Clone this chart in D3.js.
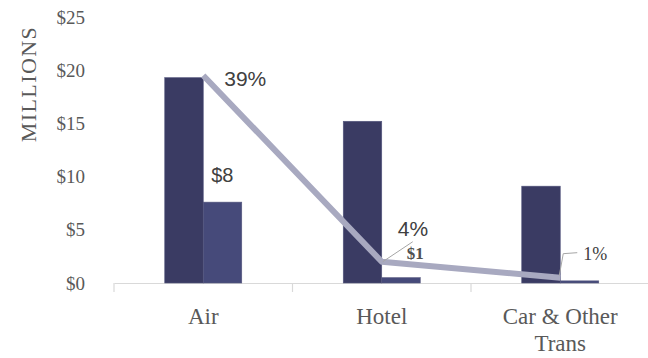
<!DOCTYPE html>
<html>
<head>
<meta charset="utf-8">
<script src="https://cdn.jsdelivr.net/npm/d3@7"></script>
<style>
  html, body { margin: 0; padding: 0; background: #fff; }
  svg { display: block; }
</style>
</head>
<body>
<svg id="chart" width="648" height="358"></svg>
<script>
// ---- data ----
const categories = ["Air", "Hotel", "Car & Other Trans"];
const categoryLines = [["Air"], ["Hotel"], ["Car & Other", "Trans"]];
const series = ["Total", "Share"];
const totalValues = [19.3, 15.2, 9.1];     // $ millions
const shareValues = [7.6, 0.5, 0.2];       // $ millions
const percentValues = [39, 4, 1];          // %
const yTicks = [0, 5, 10, 15, 20, 25];
const yTickLabels = ["$0", "$5", "$10", "$15", "$20", "$25"];
const yTitle = "MILLIONS";

// ---- layout ----
const svg = d3.select("#chart");
const baseY = 283, topY = 17;
const x0 = 114, x1 = 649.5;
const serif = "'Liberation Serif', 'Times New Roman', serif";
const sans = "'Liberation Sans', Arial, sans-serif";

const x = d3.scaleBand().domain(categories).range([x0, x1]).paddingInner(0).paddingOuter(0);
const xSub = d3.scaleBand().domain(series).range([0, x.bandwidth()]).paddingInner(0).paddingOuter(1.318);
const y = d3.scaleLinear().domain([0, 25]).range([baseY, topY]);
const yPct = d3.scaleLinear().domain([0, 50]).range([baseY, topY]);

const colors = { Total: "#3a3b63", Share: "#464a7a" };

// y axis labels
svg.append("g").selectAll("text").data(yTicks).join("text")
  .attr("x", 85).attr("y", d => y(d)).attr("dy", "0.35em")
  .attr("text-anchor", "end")
  .attr("font-family", serif).attr("font-size", 19).attr("fill", "#595959")
  .text((d, i) => yTickLabels[i]);

// y title
svg.append("text")
  .attr("transform", "translate(36,84) rotate(-90)")
  .attr("text-anchor", "middle")
  .attr("font-family", serif).attr("font-size", 22).attr("letter-spacing", 1.4)
  .attr("fill", "#595959")
  .text(yTitle);

// x axis
const xAxis = d3.axisBottom(x).tickSizeInner(0).tickSizeOuter(0).tickFormat(() => "");
const gx = svg.append("g").attr("transform", `translate(0,${baseY})`).call(xAxis);
gx.select(".domain").attr("stroke", "#d9d9d9").attr("stroke-width", 1.2);
gx.selectAll(".tick").remove();
const boundaries = categories.map(c => x(c)).concat([x1]);
gx.selectAll("line.bnd").data(boundaries).join("line").attr("class", "bnd")
  .attr("x1", d => d).attr("x2", d => d).attr("y1", 0).attr("y2", 9)
  .attr("stroke", "#d9d9d9").attr("stroke-width", 1.2);

// category labels
const catG = svg.append("g").selectAll("text").data(categories).join("text")
  .attr("x", d => x(d) + x.bandwidth() / 2)
  .attr("y", 324)
  .attr("text-anchor", "middle")
  .attr("font-family", serif).attr("font-size", 23).attr("fill", "#595959");
catG.selectAll("tspan").data((d, i) => categoryLines[i]).join("tspan")
  .attr("x", function () { return d3.select(this.parentNode).attr("x"); })
  .attr("dy", (d, i) => i === 0 ? 0 : 27)
  .text(d => d);

// bars
const barData = [];
categories.forEach((c, i) => {
  barData.push({ c, s: "Total", v: totalValues[i] });
  barData.push({ c, s: "Share", v: shareValues[i] });
});
svg.append("g").selectAll("rect").data(barData).join("rect")
  .attr("x", d => x(d.c) + xSub(d.s))
  .attr("y", d => y(d.v))
  .attr("width", xSub.bandwidth())
  .attr("height", d => baseY - y(d.v))
  .attr("fill", d => colors[d.s])
  .attr("stroke", "#55577e").attr("stroke-width", 0.6);

// line of percentages
const pts = categories.map((c, i) => [x(c) + x.bandwidth() / 2, yPct(percentValues[i])]);
svg.append("path")
  .attr("d", d3.line()(pts))
  .attr("fill", "none").attr("stroke", "#a8a9c0").attr("stroke-width", 6)
  .attr("stroke-linejoin", "round").attr("stroke-linecap", "butt");

// leader lines
const leader = "#a6a6a6";
svg.append("line")
  .attr("x1", pts[1][0] + 1).attr("y1", pts[1][1])
  .attr("x2", pts[1][0] + 31).attr("y2", pts[1][1] - 20)
  .attr("stroke", leader).attr("stroke-width", 1);
svg.append("path")
  .attr("d", d3.line()([[pts[2][0] - 1, pts[2][1] - 2], [pts[2][0] + 3, pts[2][1] - 24], [pts[2][0] + 17, pts[2][1] - 25]]))
  .attr("fill", "none").attr("stroke", leader).attr("stroke-width", 1);

// data labels
const fmt$ = v => "$" + Math.round(v);
const labelColor = "#404040";
svg.append("text").attr("x", x(categories[0]) + xSub("Share") + 8).attr("y", y(shareValues[0]) - 20)
  .attr("font-family", sans).attr("font-size", 20).attr("fill", labelColor).text(fmt$(shareValues[0]));
svg.append("text").attr("x", x(categories[1]) + xSub("Share") + 25).attr("y", 259)
  .attr("font-family", serif).attr("font-size", 17).attr("font-weight", "bold").attr("fill", "#505050").text(fmt$(shareValues[1]));
svg.append("text").attr("x", pts[0][0] + 21).attr("y", pts[0][1] + 10)
  .attr("font-family", sans).attr("font-size", 21).attr("fill", labelColor).text(percentValues[0] + "%");
svg.append("text").attr("x", pts[1][0] + 16).attr("y", 236)
  .attr("font-family", sans).attr("font-size", 21).attr("fill", labelColor).text(percentValues[1] + "%");
svg.append("text").attr("x", pts[2][0] + 23).attr("y", 260)
  .attr("font-family", serif).attr("font-size", 18).attr("fill", labelColor).text(percentValues[2] + "%");
</script>
</body>
</html>
